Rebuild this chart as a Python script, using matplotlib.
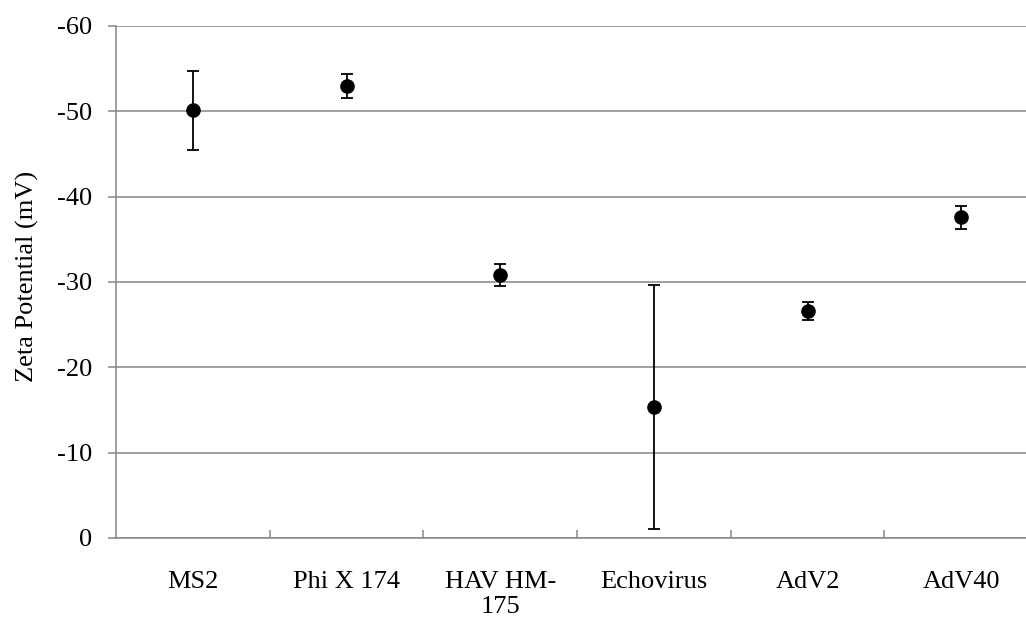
import numpy as np
import matplotlib
matplotlib.use("Agg")
import matplotlib.pyplot as plt

# zeta potential per virus (mV), mean and standard deviation
viruses = ["MS2", "Phi X 174", "HAV HM-\n175", "Echovirus", "AdV2", "AdV40"]
zeta_mv = [-50.1, -53.0, -30.8, -15.4, -26.6, -37.6]
zeta_sd = [4.6, 1.4, 1.3, 14.3, 1.1, 1.35]
y_ticks = [0, -10, -20, -30, -40, -50, -60]

plt.rcParams["font.family"] = ["Liberation Serif", "DejaVu Serif"]
plt.rcParams["axes.unicode_minus"] = False

GRID = "#868686"

fig = plt.figure(figsize=(10.26, 6.19), dpi=100)
ax = fig.add_axes([0.1131, 0.1309, 0.8986, 0.8271])

x = np.arange(len(viruses))
ax.errorbar(x, zeta_mv, yerr=zeta_sd, fmt="o", color="black",
            markersize=9.5, elinewidth=1.3, capsize=4.5, capthick=1.3,
            zorder=3)

# axis runs from 0 at the bottom to -60 at the top
ax.set_ylim(0, -60)
ax.set_yticks(y_ticks)
ax.set_yticklabels([str(v) for v in y_ticks])
ax.set_xlim(-0.5, len(viruses) - 0.5)

ax.yaxis.grid(True, color=GRID, linewidth=1.1)
ax.set_axisbelow(True)

for side in ["top", "right"]:
    ax.spines[side].set_visible(False)
for side in ["left", "bottom"]:
    ax.spines[side].set_color(GRID)
    ax.spines[side].set_linewidth(1.1)

ax.tick_params(axis="y", direction="out", length=6, width=1.1, color=GRID,
               pad=11, labelsize=19)

# category labels centred, tick marks between categories pointing inward
ax.set_xticks(x)
ax.set_xticklabels(viruses, fontsize=19, linespacing=1.15)
ax.tick_params(axis="x", which="major", length=0, pad=24)
ax.set_xticks(x[:-1] + 0.5, minor=True)
ax.tick_params(axis="x", which="minor", direction="in", length=6,
               width=1.1, color=GRID)

ax.set_ylabel("Zeta Potential (mV)", fontsize=19)
ax.yaxis.set_label_coords(-0.084, 0.51)

fig.savefig("out.png", dpi=100)
